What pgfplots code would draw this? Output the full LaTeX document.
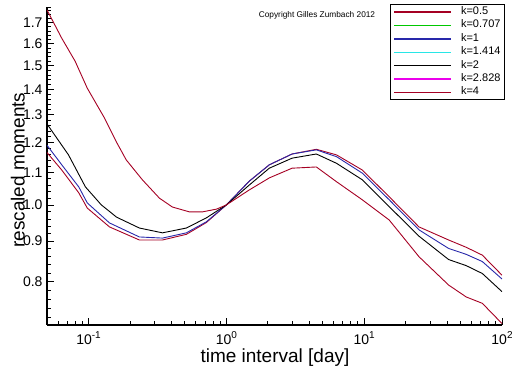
\documentclass[border=0pt]{standalone}
\usepackage{pgfplots}
\pgfplotsset{compat=1.18}
\usepackage{fontspec}
\setmainfont{Liberation Sans}
\definecolor{kred}{RGB}{165,0,35}
\definecolor{kgreen}{RGB}{0,200,0}
\definecolor{kblue}{RGB}{40,40,170}
\definecolor{kcyan}{RGB}{40,230,230}
\definecolor{kmag}{RGB}{235,0,235}
\begin{document}
\begin{tikzpicture}[x=1pt,y=1pt]
\useasboundingbox (0,0) rectangle (512,366);
\begin{axis}[
  at={(47pt,41pt)}, anchor=south west,
  scale only axis, width=455pt, height=318pt,
  xmode=log, ymode=log,
  xmin=0.05, xmax=100, ymin=0.705, ymax=1.78,
  axis x line*=bottom, axis y line*=left,
  axis line style={line width=1.2pt},
  xtick={0.1,1,10,100},
  xticklabels={10\raisebox{0.45em}{\fontsize{10}{10}\selectfont -1},
               10\raisebox{0.45em}{\fontsize{10}{10}\selectfont 0},
               10\raisebox{0.45em}{\fontsize{10}{10}\selectfont 1},
               10\raisebox{0.45em}{\fontsize{10}{10}\selectfont 2}},
  minor xtick={0.06,0.07,0.08,0.09,0.2,0.3,0.4,0.5,0.6,0.7,0.8,0.9,2,3,4,5,6,7,8,9,20,30,40,50,60,70,80,90},
  ytick={0.8,0.9,1.0,1.1,1.2,1.3,1.4,1.5,1.6,1.7},
  yticklabels={0.8,0.9,1.0,1.1,1.2,1.3,1.4,1.5,1.6,1.7},
  minor ytick={0.72,0.74,0.76,0.78,0.82,0.84,0.86,0.88,0.92,0.94,0.96,0.98,1.02,1.04,1.06,1.08,1.12,1.14,1.16,1.18,1.22,1.24,1.26,1.28,1.32,1.34,1.36,1.38,1.42,1.44,1.46,1.48,1.52,1.54,1.56,1.58,1.62,1.64,1.66,1.68,1.72,1.74,1.76,1.78},
  tick align=inside,
  major tick length=7pt, minor tick length=4pt,
  every tick/.style={black, line width=0.8pt},
  tick label style={font=\fontsize{14}{14}\selectfont},
  xticklabel style={yshift=-3pt},
  yticklabel style={xshift=-1pt},
  xlabel={time interval [day]},
  ylabel={rescaled moments},
  label style={font=\fontsize{19}{19}\selectfont},
  xlabel style={at={(axis description cs:0.501,-0.101)}, anchor=center},
  ylabel style={at={(axis description cs:-0.064,0.487)}, anchor=center},
  legend style={at={(rel axis cs:1.0066,1.0094)}, anchor=north east,
    draw=black, line width=1pt, fill=white,
    font=\fontsize{11}{11}\selectfont,
    inner xsep=3pt, inner ysep=1pt, row sep=0.4pt,
    nodes={inner sep=1pt, text height=8pt, text depth=3pt},
    /tikz/every odd column/.style={column sep=8pt}},
  legend cell align=left,
  legend image code/.code={\draw[#1, line width=1.4pt] (0pt,0pt) -- (57pt,0pt);},
  every axis plot/.append style={line width=0.9pt},
]
\addplot[kred] coordinates {
(0.05,1.165)(0.064,1.107)(0.085,1.036)(0.098,0.991)(0.142,0.938)(0.234,0.903)
(0.344,0.903)(0.513,0.918)(0.716,0.950)(1.0,1.0)(1.47,1.072)(2.05,1.124)
(3.0,1.160)(4.5,1.176)(6.3,1.157)(9.7,1.107)(15.2,1.024)(25,0.938)
(41,0.903)(55,0.884)(72,0.864)(100,0.815)};
\addlegendentry{k=0.5}
\addlegendimage{kgreen}
\addlegendentry{k=0.707}
\addplot[kblue] coordinates {
(0.05,1.19)(0.064,1.124)(0.085,1.054)(0.098,1.006)(0.112,0.985)(0.142,0.949)
(0.234,0.911)(0.344,0.908)(0.513,0.922)(0.716,0.952)(1.0,1.0)(1.47,1.072)
(2.05,1.124)(3.0,1.160)(4.5,1.174)(6.3,1.151)(9.7,1.097)(15.2,1.015)(25,0.930)
(41,0.881)(55,0.866)(72,0.848)(100,0.806)};
\addlegendentry{k=1}
\addlegendimage{kcyan}
\addlegendentry{k=1.414}
\addplot[black] coordinates {
(0.05,1.266)(0.0716,1.157)(0.095,1.054)(0.124,1.0)(0.16,0.965)
(0.234,0.935)(0.344,0.922)(0.513,0.935)(0.716,0.963)(1.0,1.0)(1.47,1.06)
(2.05,1.113)(3.0,1.146)(4.5,1.160)(6.3,1.129)(9.7,1.076)(15.2,0.995)
(25,0.913)(41,0.853)(55,0.838)(72,0.819)(100,0.777)};
\addlegendentry{k=2}
\addlegendimage{kmag}
\addlegendentry{k=2.828}
\addplot[kred] coordinates {
(0.05,1.765)(0.064,1.625)(0.08,1.52)(0.098,1.405)(0.13,1.29)(0.16,1.20)
(0.188,1.14)(0.246,1.076)(0.327,1.02)(0.406,0.994)(0.54,0.98)(0.67,0.98)
(0.85,0.988)(1.0,1.0)(1.47,1.045)(2.05,1.082)(3.0,1.113)(4.5,1.117)
(6.3,1.07)(9.7,1.015)(15.2,0.957)(25,0.86)(41,0.792)(55,0.765)(72,0.751)(100,0.708)};
\addlegendentry{k=4}
\end{axis}
\node[font=\fontsize{8.3}{8.3}\selectfont] at (317,351) {Copyright Gilles Zumbach 2012};
\end{tikzpicture}
\end{document}
